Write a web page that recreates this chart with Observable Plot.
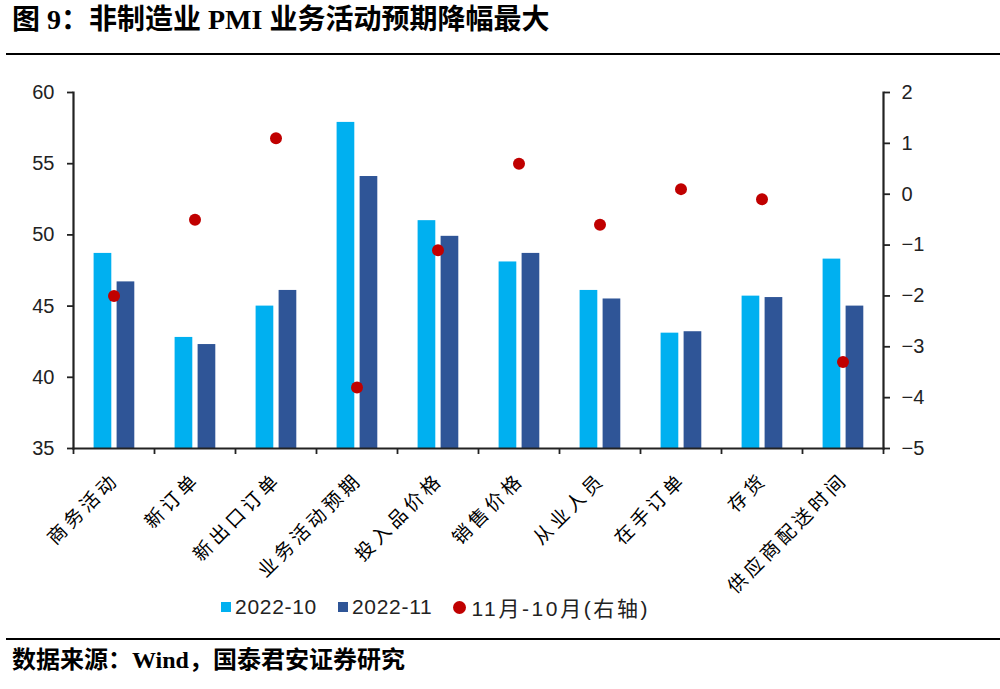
<!DOCTYPE html>
<html><head><meta charset="utf-8">
<script src="https://cdn.jsdelivr.net/npm/d3@7"></script>
<script src="https://cdn.jsdelivr.net/npm/@observablehq/plot@0.6"></script>
<style>
body{margin:0;background:#fff;width:1000px;height:689px;overflow:hidden;}
#title{height:53px;border-bottom:2px solid #000;margin-left:6px;padding-left:6px;font:bold 28px "Liberation Serif","Noto Sans CJK SC";line-height:40px;color:#000;white-space:nowrap;}
#chart svg{display:block;}
#legend{position:relative;margin-top:-10px;height:30px;display:flex;align-items:center;padding-left:221px;font:21px "Liberation Sans","Noto Sans CJK SC";color:#222;}
#legend .sw{display:inline-block;width:10px;height:10px;margin-right:4px;}
#legend .dot{display:inline-block;width:13px;height:13px;border-radius:50%;margin-right:5px;}
#legend .item{display:flex;align-items:center;margin-right:21px;}
#source{margin-top:16px;border-top:2px solid #000;margin-left:6px;padding-left:6px;padding-top:4px;font:bold 24px "Liberation Serif","Noto Sans CJK SC";line-height:32px;color:#000;white-space:nowrap;}
</style></head>
<body>
<div id="title">图 9：非制造业 PMI 业务活动预期降幅最大</div>
<div id="chart"></div>
<div id="legend"></div>
<div id="source">数据来源：Wind，国泰君安证券研究</div>
<script>
const categories = ["商务活动","新订单","新出口订单","业务活动预期","投入品价格","销售价格","从业人员","在手订单","存货","供应商配送时间"];
const oct2022 = [48.7, 42.8, 45.0, 57.9, 51.0, 48.1, 46.1, 43.1, 45.7, 48.3];
const nov2022 = [46.7, 42.3, 46.1, 54.1, 49.9, 48.7, 45.5, 43.2, 45.6, 45.0];
const diff = [-2.0, -0.5, 1.1, -3.8, -1.1, 0.6, -0.6, 0.1, -0.1, -3.3];
const leftTicks = [35, 40, 45, 50, 55, 60];
const rightTicks = [2, 1, 0, -1, -2, -3, -4, -5];
const seriesNames = ["2022-10", "2022-11", "11月-10月(右轴)"];
const colors = ["#00B0F0", "#2F5597", "#C00000"];

const leftDomain = [35, 60];
const rightDomain = [-5, 2];
const toLeft = v => leftDomain[0] + (v - rightDomain[0]) * (leftDomain[1] - leftDomain[0]) / (rightDomain[1] - rightDomain[0]);
const fromLeft = y => Math.round((rightDomain[0] + (y - leftDomain[0]) * (rightDomain[1] - rightDomain[0]) / (leftDomain[1] - leftDomain[0])) * 100) / 100;
const fmt = v => v < 0 ? "\u2212" + Math.abs(v) : String(v);

const rows = categories.map((c, i) => ({cat: c, oct: oct2022[i], nov: nov2022[i], diff: diff[i], diffL: toLeft(diff[i])}));
const font = "Liberation Sans, Arial, sans-serif";

const plot = Plot.plot({
  width: 1000,
  height: 547,
  marginTop: 37,
  marginBottom: 154,
  marginLeft: 73,
  marginRight: 117,
  style: {fontFamily: font, fontSize: "20px", color: "#222", background: "transparent", overflow: "visible"},
  x: {type: "band", domain: categories, padding: 0, axis: null},
  y: {domain: leftDomain, axis: null},
  marks: [
    Plot.barY(rows, {x: "cat", y1: leftDomain[0], y2: "oct", fill: colors[0], insetLeft: 20.6, insetRight: 42.7}),
    Plot.barY(rows, {x: "cat", y1: leftDomain[0], y2: "nov", fill: colors[1], insetLeft: 43.6, insetRight: 19.7}),
    Plot.dot(rows, {x: "cat", y: "diffL", r: 6, fill: colors[2], stroke: "none"}),
    Plot.axisY(leftTicks, {anchor: "left", label: null, tickSize: 6, tickPadding: 13, strokeWidth: 1.8, fontSize: 20, fill: "#222", tickFormat: d => String(d)}),
    Plot.axisY(rightTicks.map(toLeft), {anchor: "right", label: null, tickSize: 6, tickPadding: 12, strokeWidth: 1.8, fontSize: 20, fill: "#222", tickFormat: d => fmt(fromLeft(d))}),
    Plot.axisX(categories, {anchor: "bottom", label: null, tickSize: 6, dx: -40.5, strokeWidth: 1.8, tickFormat: () => ""}),
    Plot.axisX([categories[categories.length - 1]], {anchor: "bottom", label: null, tickSize: 6, dx: 40.5, strokeWidth: 1.8, tickFormat: () => ""}),
    Plot.frame({anchor: "left", strokeWidth: 2.2}),
    Plot.frame({anchor: "right", strokeWidth: 2.2}),
    Plot.frame({anchor: "bottom", strokeWidth: 2.2}),
    Plot.text(rows, {x: "cat", y: () => leftDomain[0], text: "cat", textAnchor: "end", lineAnchor: "middle", rotate: -45, dy: 28, dx: 2, fontSize: 19, fill: "#000", fontFamily: "Noto Sans CJK SC"})
  ]
});
document.getElementById("chart").appendChild(plot);
d3.select(plot).selectAll("text").filter(function() { return categories.includes(this.textContent); }).attr("letter-spacing", "4px");

const lg = d3.select("#legend");
const spacing = ["0.7px", "0.7px", "2.6px"];
seriesNames.forEach((name, i) => {
  const it = lg.append("span").attr("class", "item");
  it.append("span").attr("class", i < 2 ? "sw" : "dot").style("background", colors[i]);
  it.append("span").style("letter-spacing", spacing[i]).text(name);
});
</script>
</body></html>
